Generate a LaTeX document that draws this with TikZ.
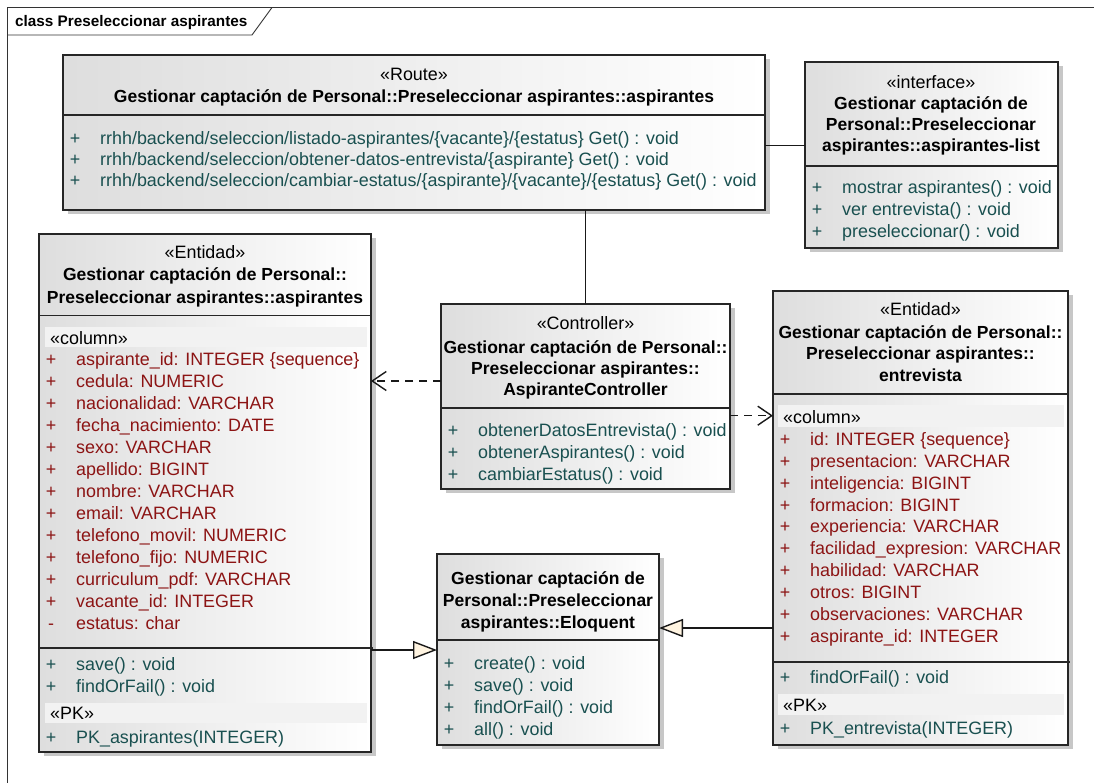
\documentclass[tikz,border=0pt]{standalone}
\usepackage{fontspec}
\setmainfont{Liberation Sans}
\usetikzlibrary{arrows.meta,shadows}
\definecolor{attrred}{RGB}{140,20,20}
\definecolor{methteal}{RGB}{25,80,80}
\definecolor{tribeige}{RGB}{255,244,225}
\definecolor{bandgray}{RGB}{242,242,242}
\tikzset{
 clsbox/.style={draw=black!85, line width=1.2pt, left color=black!13, right color=white,
   drop shadow={shadow xshift=5pt, shadow yshift=-4pt, fill=black!22, opacity=1},
   inner sep=0pt, outer sep=0pt},
 divline/.style={draw=black!85, line width=1.2pt},
 reg/.style={font=\fontsize{17.9}{21}\selectfont, inner sep=0pt, text=black},
 ttl/.style={font=\fontsize{17.5}{21}\selectfont\bfseries, inner sep=0pt, anchor=base},
 ster/.style={reg, anchor=base},
 attr/.style={reg, text=attrred},
 meth/.style={reg, text=methteal},
 bandbox/.style={fill=bandgray},
 assoc/.style={draw=black!90, line width=1.4pt},
 dep/.style={draw=black!90, line width=1.4pt, dash pattern=on 8pt off 6pt,
   -{Straight Barb[length=14pt,width=19pt]}},
 gen/.style={draw=black!90, line width=1.4pt,
   -{Triangle[length=24pt,width=18pt,fill=tribeige]}},
 framebox/.style={draw=black!80, line width=0.9pt},
}
\newcommand{\umlclass}[5]{%
 \node[clsbox, anchor=north west, minimum width={#4-#2}, minimum height={#5-#3}] (#1) at (#2,#3) {};}
\newcommand{\clsmem}[6]{%
 \node[#6, anchor=base] (#1s) at ({#2+12},{#3+6}) {#4};
 \node[#6, anchor=base west] (#1t) at ({#2+37},{#3+6}) {#5};}
\begin{document}
\begin{tikzpicture}[x=1pt,y=-1pt]
\useasboundingbox (0,0) rectangle (1094,783);
% frame
\draw[framebox] (7,783) -- (7,7.5) -- (1094,7.5);
\draw[framebox] (7,35) -- (252,35) -- (272,7.5);
\node[font=\fontsize{15.3}{18}\selectfont\bfseries, inner sep=0pt, anchor=base west] (frametitle) at (15,27) {class Preseleccionar aspirantes};

% ---------- boxes ----------
\umlclass{route}{63}{55}{765}{210}
\umlclass{iface}{805}{62}{1058}{248}
\umlclass{asp}{39}{234}{371}{752}
\umlclass{ctrl}{441}{304}{730}{489}
\umlclass{entr}{773}{291}{1068}{745}
\umlclass{elo}{437}{554}{659}{745}

% ---------- connectors ----------
\draw[assoc] (route.east |- 0,145.7) -- (iface.west |- 0,145.7);
\draw[assoc] (ctrl.north |- route.south) -- (ctrl.north);
\draw[dep] (ctrl.west |- 0,381) -- (asp.east |- 0,381);
\draw[dep] (ctrl.east |- 0,415.7) -- (entr.west |- 0,415.7);
\draw[gen] (asp.east |- 0,650) -- (elo.west |- 0,650);
\draw[gen] (entr.west |- 0,628) -- (elo.east |- 0,628);

% ---------- Route ----------
\draw[divline] (route.west |- 0,115) -- (route.east |- 0,115);
\node[ster] (routeS) at (414,81) {«Route»};
\node[ttl] (routeT) at (414,102.7) {Gestionar captación de Personal::Preseleccionar aspirantes::aspirantes};
\clsmem{rm1}{63}{138.5}{+}{rrhh/backend/seleccion/listado-aspirantes/\{vacante\}/\{estatus\} Get() : void}{meth}
\clsmem{rm2}{63}{159.5}{+}{rrhh/backend/seleccion/obtener-datos-entrevista/\{aspirante\} Get() : void}{meth}
\clsmem{rm3}{63}{180.5}{+}{rrhh/backend/seleccion/cambiar-estatus/\{aspirante\}/\{vacante\}/\{estatus\} Get() : void}{meth}

% ---------- interface ----------
\draw[divline] (iface.west |- 0,166) -- (iface.east |- 0,166);
\node[ster] (ifS) at (931,89) {«interface»};
\node[ttl] (ifT1) at (931,110) {Gestionar captación de};
\node[ttl] (ifT2) at (931,131) {Personal::Preseleccionar};
\node[ttl] (ifT3) at (931,152) {aspirantes::aspirantes-list};
\clsmem{im1}{805}{188}{+}{mostrar aspirantes() : void}{meth}
\clsmem{im2}{805}{210}{+}{ver entrevista() : void}{meth}
\clsmem{im3}{805}{232}{+}{preseleccionar() : void}{meth}

% ---------- Entidad aspirantes ----------
\draw[divline] (asp.west |- 0,315.7) -- (asp.east |- 0,315.7);
\node[ster] (aspS) at (205,259) {«Entidad»};
\node[ttl] (aspT1) at (205,281) {Gestionar captación de Personal::};
\node[ttl] (aspT2) at (205,304) {Preseleccionar aspirantes::aspirantes};
\fill[bandbox] (45,327) rectangle (366.5,347);
\node[reg, anchor=base west] (aspcol) at (50,344) {«column»};
\clsmem{aa1}{39}{359}{+}{aspirante\_id: INTEGER \{sequence\}}{attr}
\clsmem{aa2}{39}{381}{+}{cedula: NUMERIC}{attr}
\clsmem{aa3}{39}{403}{+}{nacionalidad: VARCHAR}{attr}
\clsmem{aa4}{39}{425}{+}{fecha\_nacimiento: DATE}{attr}
\clsmem{aa5}{39}{447}{+}{sexo: VARCHAR}{attr}
\clsmem{aa6}{39}{469}{+}{apellido: BIGINT}{attr}
\clsmem{aa7}{39}{491}{+}{nombre: VARCHAR}{attr}
\clsmem{aa8}{39}{513}{+}{email: VARCHAR}{attr}
\clsmem{aa9}{39}{535}{+}{telefono\_movil: NUMERIC}{attr}
\clsmem{aa10}{39}{557}{+}{telefono\_fijo: NUMERIC}{attr}
\clsmem{aa11}{39}{579}{+}{curriculum\_pdf: VARCHAR}{attr}
\clsmem{aa12}{39}{601}{+}{vacante\_id: INTEGER}{attr}
\clsmem{aa13}{39}{623}{-}{estatus: char}{attr}
\draw[divline] (asp.west |- 0,648) -- (373,648);
\clsmem{am1}{39}{664}{+}{save() : void}{meth}
\clsmem{am2}{39}{686}{+}{findOrFail() : void}{meth}
\fill[bandbox] (45,703) rectangle (366.5,723);
\node[reg, anchor=base west] (asppk) at (50,719) {«PK»};
\clsmem{ap1}{39}{737}{+}{PK\_aspirantes(INTEGER)}{meth}

% ---------- Controller ----------
\draw[divline] (ctrl.west |- 0,408) -- (ctrl.east |- 0,408);
\node[ster] (ctS) at (585.5,330) {«Controller»};
\node[ttl] (ctT1) at (585.5,353) {Gestionar captación de Personal::};
\node[ttl] (ctT2) at (585.5,374) {Preseleccionar aspirantes::};
\node[ttl] (ctT3) at (585.5,395) {AspiranteController};
\clsmem{cm1}{441}{430}{+}{obtenerDatosEntrevista() : void}{meth}
\clsmem{cm2}{441}{452}{+}{obtenerAspirantes() : void}{meth}
\clsmem{cm3}{441}{474}{+}{cambiarEstatus() : void}{meth}

% ---------- Entidad entrevista ----------
\draw[divline] (entr.west |- 0,394) -- (entr.east |- 0,394);
\node[ster] (enS) at (920.5,316) {«Entidad»};
\node[ttl] (enT1) at (920.5,338) {Gestionar captación de Personal::};
\node[ttl] (enT2) at (920.5,359) {Preseleccionar aspirantes::};
\node[ttl] (enT3) at (920.5,381) {entrevista};
\fill[bandbox] (777.5,405) rectangle (1064,427);
\node[reg, anchor=base west] (encol) at (783,423) {«column»};
\clsmem{ea1}{773}{439}{+}{id: INTEGER \{sequence\}}{attr}
\clsmem{ea2}{773}{461}{+}{presentacion: VARCHAR}{attr}
\clsmem{ea3}{773}{483}{+}{inteligencia: BIGINT}{attr}
\clsmem{ea4}{773}{505}{+}{formacion: BIGINT}{attr}
\clsmem{ea5}{773}{526}{+}{experiencia: VARCHAR}{attr}
\clsmem{ea6}{773}{548}{+}{facilidad\_expresion: VARCHAR}{attr}
\clsmem{ea7}{773}{570}{+}{habilidad: VARCHAR}{attr}
\clsmem{ea8}{773}{592}{+}{otros: BIGINT}{attr}
\clsmem{ea9}{773}{614}{+}{observaciones: VARCHAR}{attr}
\clsmem{ea10}{773}{636}{+}{aspirante\_id: INTEGER}{attr}
\draw[divline] (entr.west |- 0,662) -- (1070,662);
\clsmem{em1}{773}{677}{+}{findOrFail() : void}{meth}
\fill[bandbox] (777.5,694) rectangle (1064,715);
\node[reg, anchor=base west] (enpk) at (783,711) {«PK»};
\clsmem{ep1}{773}{728}{+}{PK\_entrevista(INTEGER)}{meth}

% ---------- Eloquent ----------
\draw[divline] (elo.west |- 0,640) -- (elo.east |- 0,640);
\node[ttl] (elT1) at (548,584) {Gestionar captación de};
\node[ttl] (elT2) at (548,606) {Personal::Preseleccionar};
\node[ttl] (elT3) at (548,628) {aspirantes::Eloquent};
\clsmem{lm1}{437}{663}{+}{create() : void}{meth}
\clsmem{lm2}{437}{685}{+}{save() : void}{meth}
\clsmem{lm3}{437}{707}{+}{findOrFail() : void}{meth}
\clsmem{lm4}{437}{729}{+}{all() : void}{meth}
\end{tikzpicture}
\end{document}
